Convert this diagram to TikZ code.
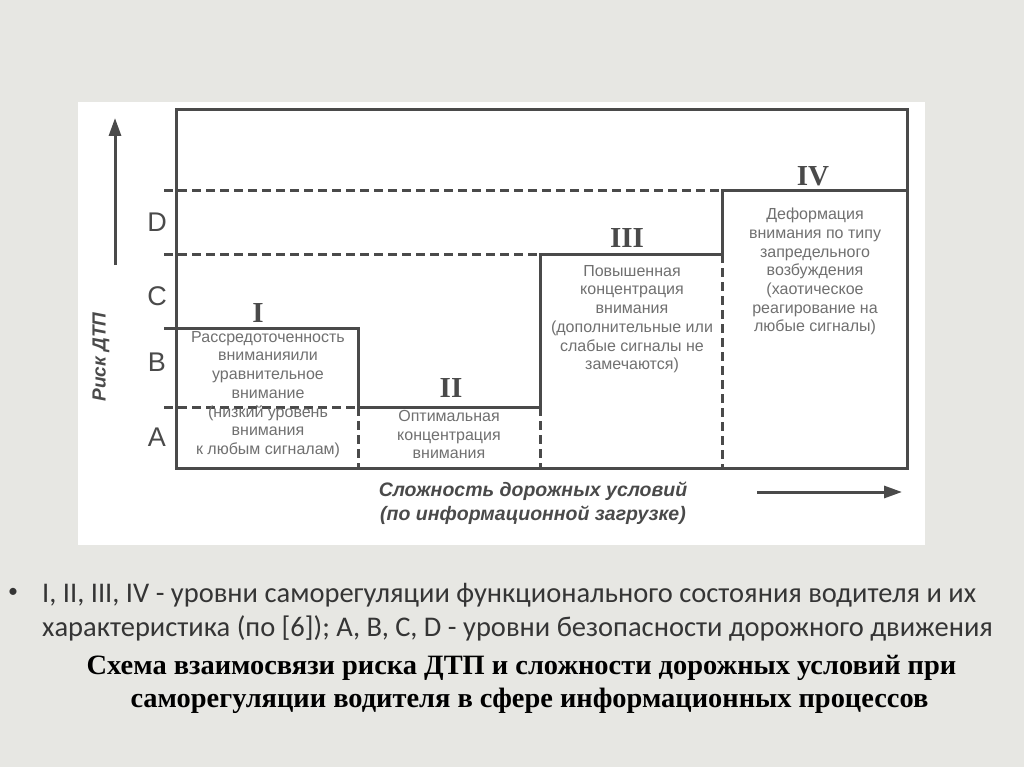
\documentclass[tikz,border=0pt]{standalone}
\usepackage{fontspec}
\setmainfont{Liberation Sans}
\newfontfamily\bodyfont{Carlito}
\newfontfamily\titlefont{Liberation Serif}
\usetikzlibrary{arrows.meta}
\definecolor{bg}{HTML}{E7E7E3}
\definecolor{ln}{HTML}{4A4A4A}
\definecolor{tx}{HTML}{707070}
\definecolor{bt}{HTML}{353535}
\tikzset{
  frame/.style={draw=ln, line width=3pt},
  dashline/.style={draw=ln, line width=3pt, dash pattern=on 9pt off 5pt},
  boxtext/.style={text=tx, font=\fontsize{16}{18.7}\selectfont, align=center, inner sep=0pt},
  level/.style={text=ln, font=\fontsize{27}{27}\selectfont, inner sep=0pt},
  roman/.style={text=ln, font=\titlefont\bfseries\fontsize{29}{29}\selectfont, inner sep=0pt},
  axarrow/.style={draw=ln, line width=3pt, -{Triangle[length=18pt,width=12pt]}},
  bodytext/.style={text=bt, anchor=base west, font=\bodyfont\fontsize{28.5}{34}\selectfont, inner sep=0pt},
  titletext/.style={text=black, anchor=base, font=\titlefont\bfseries\fontsize{28}{28}\selectfont, inner sep=0pt},
}
\begin{document}
\begin{tikzpicture}[x=1pt,y=-1pt]
\useasboundingbox (0,0) rectangle (1024,767);
\fill[bg] (0,0) rectangle (1024,767);
\fill[white] (78,102) rectangle (925,545);
% dashed level lines
\draw[dashline] (164,191) -- (722,191);
\draw[dashline] (164,254) -- (540,254);
\draw[dashline] (164,407) -- (358,407);
\draw[dashline] (358,407) -- (358,468);
\draw[dashline] (540,407) -- (540,468);
\draw[dashline] (722,254) -- (722,468);
% frame
\draw[frame] (176,110) -- (907,110) -- (907,468) -- (176,468) -- cycle;
% step curve
\draw[frame] (164,328) -- (358,328) -- (358,407) -- (540,407) -- (540,254) -- (722,254) -- (722,191) -- (907,191);
% axes
\coordinate (ya) at (115,265); \coordinate (yb) at (115,118);
\draw[axarrow] (ya) -- (yb);
\coordinate (xa) at (757,492); \coordinate (xb) at (902,492);
\draw[axarrow] (xa) -- (xb);
\node[rotate=90, text=ln, font=\bfseries\itshape\fontsize{19}{19}\selectfont] (ylab) at (101,357) {Риск ДТП};
\node[text=ln, align=center, font=\bfseries\itshape\fontsize{19.5}{23.5}\selectfont] (xlab) at (533,503) {Сложность дорожных условий\\(по информационной загрузке)};
% level letters
\node[level] (lD) at (157,222) {D};
\node[level] (lC) at (157,296) {C};
\node[level] (lB) at (157,362) {B};
\node[level] (lA) at (157,437) {A};
% roman numerals
\node[roman] (r1) at (258,313) {I};
\node[roman] (r2) at (451,388) {II};
\node[roman] (r3) at (627,238) {III};
\node[roman] (r4) at (813,176) {IV};
% box texts
\node[boxtext, anchor=north] (t1) at (268,331) {Рассредоточенность\\вниманияили\\уравнительное\\внимание\\(низкий уровень\\внимания\\к любым сигналам)};
\node[boxtext, anchor=north] (t2) at (449,410) {Оптимальная\\концентрация\\внимания};
\node[boxtext, anchor=north] (t3) at (632,265) {Повышенная\\концентрация\\внимания\\(дополнительные или\\слабые сигналы не\\замечаются)};
\node[boxtext, anchor=north] (t4) at (815,208) {Деформация\\внимания по типу\\запредельного\\возбуждения\\(хаотическое\\реагирование на\\любые сигналы)};
% bullet text
\node[text=bt, font=\bodyfont\fontsize{20}{20}\selectfont, inner sep=0pt] (bul) at (13,593) {•};
\node[bodytext] (b1) at (42,602) {I, II, III, IV - уровни саморегуляции функционального состояния водителя и их};
\node[bodytext] (b2) at (42,636) {характеристика (по [6]); A, B, C, D - уровни безопасности дорожного движения};
% title
\node[titletext] (title1) at (521.5,674) {\scalebox{1.015}[1]{Схема взаимосвязи риска ДТП и сложности дорожных условий при}};
\node[titletext] (title2) at (529.5,707) {\scalebox{1.015}[1]{саморегуляции водителя в сфере информационных процессов}};
\end{tikzpicture}
\end{document}
